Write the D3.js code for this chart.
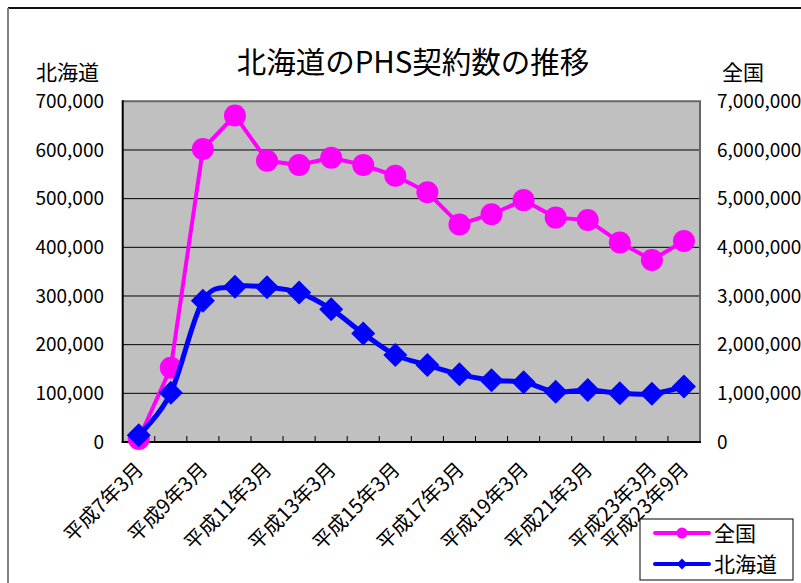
<!DOCTYPE html>
<html>
<head>
<meta charset="utf-8">
<script src="https://cdn.jsdelivr.net/npm/d3@7"></script>
<style>
  html, body { margin: 0; padding: 0; background: #fff; }
  svg { display: block; }
  text { font-family: "Noto Sans CJK JP", "Noto Sans", sans-serif; fill: #000; }
</style>
</head>
<body>
<svg id="chart" width="801" height="583"></svg>
<script>
// 契約数の推移（北海道 = 左軸、全国 = 右軸）
const categories = [
  "平成7年3月", "平成8年3月", "平成9年3月", "平成10年3月", "平成11年3月",
  "平成12年3月", "平成13年3月", "平成14年3月", "平成15年3月", "平成16年3月",
  "平成17年3月", "平成18年3月", "平成19年3月", "平成20年3月", "平成21年3月",
  "平成22年3月", "平成23年3月", "平成23年9月"
];
const hokkaido = [
  14000, 101000, 290000, 319000, 318000, 307000, 273000, 223000, 179000,
  158000, 139000, 127000, 123000, 103000, 107000, 100000, 99000, 114000
];
const zenkoku = [
  60000, 1526000, 6020000, 6710000, 5780000, 5690000, 5840000, 5690000, 5470000,
  5130000, 4470000, 4680000, 4970000, 4610000, 4560000, 4100000, 3740000, 4130000
];
const leftTicks = [0, 100000, 200000, 300000, 400000, 500000, 600000, 700000];
const rightTicks = [0, 1000000, 2000000, 3000000, 4000000, 5000000, 6000000, 7000000];
const labelledCategories = [
  "平成7年3月", "平成9年3月", "平成11年3月", "平成13年3月", "平成15年3月",
  "平成17年3月", "平成19年3月", "平成21年3月", "平成23年3月", "平成23年9月"
];

const svg = d3.select("#chart");
const plot = { left: 122.7, right: 700, top: 101.3, bottom: 442 };
const PINK = "#FF00FF", BLUE = "#0000FF";
const fmt = d3.format(",");

const x = d3.scaleBand().domain(categories).range([plot.left, plot.right]).padding(0);
const cx = d => x(d) + x.bandwidth() / 2;
const yL = d3.scaleLinear().domain([0, 700000]).range([plot.bottom, plot.top]);
const yR = d3.scaleLinear().domain([0, 7000000]).range([plot.bottom, plot.top]);

// chart frame
svg.append("line").attr("x1", 8).attr("x2", 801).attr("y1", 8).attr("y2", 8)
  .attr("stroke", "#111").attr("stroke-width", 2);
svg.append("line").attr("x1", 8).attr("x2", 8).attr("y1", 8).attr("y2", 583)
  .attr("stroke", "#808080").attr("stroke-width", 2);

// plot background
svg.append("rect")
  .attr("x", plot.left).attr("y", plot.top)
  .attr("width", plot.right - plot.left).attr("height", plot.bottom - plot.top)
  .attr("fill", "#C0C0C0");

// gridlines
svg.append("g").selectAll("line")
  .data(leftTicks.filter(t => t > 0 && t < 700000))
  .join("line")
  .attr("x1", plot.left).attr("x2", plot.right)
  .attr("y1", d => yL(d)).attr("y2", d => yL(d))
  .attr("stroke", "#000").attr("stroke-width", 1);

// plot border (top / right)
svg.append("path")
  .attr("d", `M${plot.left},${plot.top}H${plot.right}V${plot.bottom}`)
  .attr("fill", "none").attr("stroke", "#666").attr("stroke-width", 2);

// category axis: inner tick marks on category boundaries
const xAxis = svg.append("g");
xAxis.selectAll("line.tick")
  .data(categories.slice(1))
  .join("line")
  .attr("class", "tick")
  .attr("x1", d => x(d)).attr("x2", d => x(d))
  .attr("y1", plot.bottom).attr("y2", plot.bottom - 6)
  .attr("stroke", "#000").attr("stroke-width", 1);
xAxis.append("line")
  .attr("x1", plot.left - 1).attr("x2", plot.right + 1)
  .attr("y1", plot.bottom).attr("y2", plot.bottom)
  .attr("stroke", "#000").attr("stroke-width", 2);
xAxis.selectAll("text")
  .data(labelledCategories)
  .join("text")
  .attr("transform", d => `translate(${cx(d) + 1},${plot.bottom + 24}) rotate(-45)`)
  .attr("text-anchor", "end")
  .attr("dy", "0.35em")
  .attr("font-size", 20)
  .text(d => d);

// left value axis
svg.append("line")
  .attr("x1", plot.left).attr("x2", plot.left)
  .attr("y1", plot.top - 1).attr("y2", plot.bottom + 1)
  .attr("stroke", "#000").attr("stroke-width", 2);
svg.append("g").selectAll("text")
  .data(leftTicks).join("text")
  .attr("x", 104).attr("y", d => yL(d))
  .attr("dy", "0.36em").attr("text-anchor", "end")
  .attr("font-size", 19)
  .text(d => fmt(d));

// right value axis
svg.append("g").selectAll("text")
  .data(rightTicks).join("text")
  .attr("x", 717).attr("y", d => yR(d))
  .attr("dy", "0.36em").attr("text-anchor", "start")
  .attr("font-size", 19)
  .text(d => fmt(d));

// axis titles and chart title
svg.append("text").attr("x", 36).attr("y", 72).attr("dy", "0.36em")
  .attr("font-size", 21).text("北海道");
svg.append("text").attr("x", 722).attr("y", 72).attr("dy", "0.36em")
  .attr("font-size", 21).text("全国");
svg.append("text").attr("x", 413).attr("y", 62).attr("dy", "0.36em")
  .attr("text-anchor", "middle").attr("font-size", 29.5)
  .text("北海道のPHS契約数の推移");

// 全国 series (right axis)
const zData = categories.map((c, i) => ({ c, v: zenkoku[i] }));
svg.append("path")
  .datum(zData)
  .attr("fill", "none").attr("stroke", PINK).attr("stroke-width", 4)
  .attr("stroke-linejoin", "round")
  .attr("d", d3.line().x(d => cx(d.c)).y(d => yR(d.v)));
svg.append("g").selectAll("circle")
  .data(zData).join("circle")
  .attr("cx", d => cx(d.c)).attr("cy", d => yR(d.v)).attr("r", 11)
  .attr("fill", PINK);

// 北海道 series (left axis, smoothed)
const hData = categories.map((c, i) => ({ c, v: hokkaido[i] }));
svg.append("path")
  .datum(hData)
  .attr("fill", "none").attr("stroke", BLUE).attr("stroke-width", 5)
  .attr("stroke-linejoin", "round")
  .attr("d", d3.line().curve(d3.curveCatmullRom.alpha(0)).x(d => cx(d.c)).y(d => yL(d.v)));
const diamond = s => `M0,${-s}L${s},0L0,${s}L${-s},0Z`;
svg.append("g").selectAll("path")
  .data(hData).join("path")
  .attr("transform", d => `translate(${cx(d.c)},${yL(d.v)})`)
  .attr("d", diamond(12))
  .attr("fill", BLUE);

// legend
const lg = svg.append("g");
lg.append("rect").attr("x", 640).attr("y", 519).attr("width", 153).attr("height", 61)
  .attr("fill", "#fff").attr("stroke", "#000").attr("stroke-width", 1);
const legendItems = [
  { name: "全国", color: PINK, y: 533, mark: "circle" },
  { name: "北海道", color: BLUE, y: 564, mark: "diamond" }
];
legendItems.forEach(it => {
  lg.append("line").attr("x1", 655).attr("x2", 709).attr("y1", it.y).attr("y2", it.y)
    .attr("stroke", it.color).attr("stroke-width", 4).attr("stroke-linecap", "round");
  if (it.mark === "circle") {
    lg.append("circle").attr("cx", 682).attr("cy", it.y).attr("r", 5.5).attr("fill", it.color);
  } else {
    lg.append("path").attr("transform", `translate(682,${it.y})`).attr("d", diamond(5.5)).attr("fill", it.color);
  }
  lg.append("text").attr("x", 714).attr("y", it.y).attr("dy", "0.36em")
    .attr("font-size", 21).text(it.name);
});
</script>
</body>
</html>
